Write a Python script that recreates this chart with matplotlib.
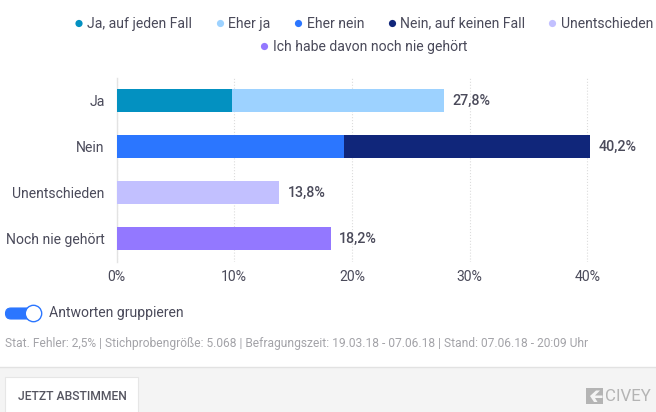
import matplotlib
matplotlib.use("Agg")
import matplotlib.pyplot as plt
from matplotlib.patches import Rectangle, Circle, FancyBboxPatch, Polygon

plt.rcParams['font.family'] = ['Roboto', 'DejaVu Sans']

categories = ['Ja', 'Nein', 'Unentschieden', 'Noch nie gehört']
first_part = [9.8, 19.3, 13.8, 18.2]
second_part = [18.0, 20.9, 0, 0]
first_colors = ['#0391c1', '#2b76ff', '#c2c0ff', '#9378ff']
second_colors = ['#9dd2ff', '#10267a', '#c2c0ff', '#9378ff']
total_labels = ['27,8%', '40,2%', '13,8%', '18,2%']
ticks = [0, 10, 20, 30, 40]

legend_row1 = [('Ja, auf jeden Fall', '#0391c1', 79, 87),
               ('Eher ja', '#9dd2ff', 220.5, 228.5),
               ('Eher nein', '#2b76ff', 298.5, 307),
               ('Nein, auf keinen Fall', '#10267a', 392.5, 400.5),
               ('Unentschieden', '#c2c0ff', 552.5, 560.5)]
legend_row2 = [('Ich habe davon noch nie gehört', '#9378ff', 264.5, 273)]

text_col = '#4a4a5a'
W, H = 656, 412

fig = plt.figure(figsize=(W / 100, H / 100), dpi=100)

# pixel overlay for everything that is not the chart
bg = fig.add_axes([0, 0, 1, 1])
bg.set_xlim(0, W)
bg.set_ylim(H, 0)
bg.axis('off')

# chart axes, placed by pixels
left, right, top, bottom = 116.5, 646, 78, 261.5
ax = fig.add_axes([left / W, 1 - bottom / H, (right - left) / W, (bottom - top) / H])
ax.patch.set_alpha(0)
ypos = list(range(len(categories)))
ax.barh(ypos, first_part, height=0.5, color=first_colors, zorder=3)
ax.barh(ypos, second_part, left=first_part, height=0.5, color=second_colors, zorder=3)
ax.set_xlim(0, (right - left) / 11.77)
ax.set_ylim(3 + 23 / 46, -22.5 / 46)
for s in ['top', 'right', 'bottom']:
    ax.spines[s].set_visible(False)
ax.spines['left'].set_color('#e3e3e3')
ax.spines['left'].set_linewidth(1)
ax.set_yticks(ypos)
ax.set_yticklabels(categories, fontsize=10.1, color=text_col)
ax.set_xticks(ticks)
ax.set_xticklabels([f'{t}%' for t in ticks], fontsize=10.1, color=text_col)
ax.tick_params(length=0, axis='x', pad=6)
ax.tick_params(length=0, axis='y', pad=8.5)
ax.xaxis.grid(True, color='#dcdcdc', linestyle=':', linewidth=0.8, zorder=0)
ax.set_axisbelow(True)
for y, a, b, lab in zip(ypos, first_part, second_part, total_labels):
    ax.text(a + b + 0.72, y + 0.02, lab, va='center', ha='left', fontsize=10.3,
            fontweight='medium', color=text_col)

# legend
for row, yy in ((legend_row1, 23.5), (legend_row2, 46.5)):
    for name, col, cx, tx in row:
        bg.add_patch(Circle((cx, yy), 3.6, color=col, lw=0))
        bg.text(tx, yy, name, fontsize=10.05, color=text_col, va='center', ha='left')

# toggle
bg.add_patch(FancyBboxPatch((5.5, 308), 35, 11, boxstyle='round,pad=0,rounding_size=5.5',
                            fc='#2b76ff', ec='#2b76ff', lw=0.8))
bg.add_patch(Circle((33.5, 313.5), 8.2, fc='white', ec='#2b76ff', lw=1, zorder=3))
bg.text(49, 313, 'Antworten gruppieren', fontsize=10.1, color=text_col, va='center', ha='left')

bg.text(5, 343, 'Stat. Fehler: 2,5% | Stichprobengröße: 5.068 | Befragungszeit: 19.03.18 - 07.06.18 | '
        'Stand: 07.06.18 - 20:09 Uhr', fontsize=8.68, color='#a3a3a8', va='center', ha='left')

# footer
bg.add_patch(Rectangle((0, 367), W, 45, fc='#f4f4f4', ec='none'))
bg.plot([0, W], [367, 367], color='#e2e2e2', lw=1)
bg.add_patch(Rectangle((5, 377), 133, 40, fc='white', ec='#e6e6e6', lw=0.8))
bg.text(72, 396, 'JETZT ABSTIMMEN', fontsize=8.7, fontweight='medium', color='#555560',
        va='center', ha='center')

# logo
bg.add_patch(Rectangle((586, 388), 16.5, 16, fc='#b4b4b4', ec='none'))
bg.add_patch(Polygon([(590, 396), (596, 390.5), (600, 390.5), (595, 395.5), (602.5, 395.5),
                      (602.5, 398), (595, 398), (597.5, 402), (594, 402)], fc='#f4f4f4', ec='none'))
bg.text(605, 396.5, 'CIVEY', fontsize=12.2, color='#b4b4b4', va='center', ha='left')

fig.savefig('out.png', dpi=100)
